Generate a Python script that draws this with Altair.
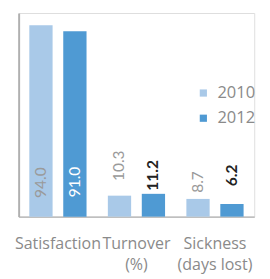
import altair as alt
import pandas as pd

categories = ["Satisfaction", "Turnover (%)", "Sickness (days lost)"]
years = ["2010", "2012"]
values_2010 = [94.0, 10.3, 8.7]
values_2012 = [91.0, 11.2, 6.2]
label_pos_2010 = [16.7, 25.0, 17.0]
label_pos_2012 = [17.0, 20.3, 20.3]

rows = []
for i, c in enumerate(categories):
    rows.append({"category": c, "year": "2010", "value": values_2010[i], "lpos": label_pos_2010[i]})
    rows.append({"category": c, "year": "2012", "value": values_2012[i], "lpos": label_pos_2012[i]})
df = pd.DataFrame(rows)

FONT = "Lato"
AXFONT = "Open Sans"
x_enc = alt.X("category:N", sort=categories, title=None,
              scale=alt.Scale(paddingInner=0, paddingOuter=0),
              axis=alt.Axis(labelAngle=0, ticks=False, domainColor="#b0b0b0", domainWidth=1.5,
                            labelColor="#8a8a8a", labelFont=AXFONT, labelFontSize=16.5,
                            labelPadding=20, labelLineHeight=22, labelBaseline="top",
                            labelExpr="split(replace(datum.label, ' (', '|('), '|')"))
xo_enc = alt.XOffset("year:N", sort=years,
                     scale=alt.Scale(paddingInner=0.314, paddingOuter=0.314))

base = alt.Chart(df).encode(x=x_enc, xOffset=xo_enc)

bars = base.mark_bar().encode(
    y=alt.Y("value:Q", scale=alt.Scale(domain=[0, 100], nice=False), title=None,
            axis=alt.Axis(labels=False, ticks=False, grid=False, domainColor="#b0b0b0", domainWidth=2)),
    color=alt.Color("year:N", sort=years,
                    scale=alt.Scale(domain=years, range=["#a9c9e8", "#4f9ad3"]),
                    legend=alt.Legend(title=None, orient="none", legendX=182, legendY=74,
                                      symbolType="square", symbolSize=55, symbolStrokeWidth=0,
                                      labelFont=AXFONT, labelFontSize=17, labelColor="#8a8a8a",
                                      rowPadding=8, symbolOffset=0, labelOffset=6)),
)

txt_y = alt.Y("lpos:Q", scale=alt.Scale(domain=[0, 100], nice=False))

t2010 = base.transform_filter("datum.year == '2010'").mark_text(
    angle=270, font=FONT, fontSize=16, color="#9a9a9a", align="center", baseline="middle"
).encode(y=txt_y, text=alt.Text("value:Q", format=".1f"))

t2012a = base.transform_filter("datum.year == '2012' && datum.value > 50").mark_text(
    angle=270, font=FONT, fontSize=16, color="#ffffff", align="center", baseline="middle"
).encode(y=txt_y, text=alt.Text("value:Q", format=".1f"))

t2012b = base.transform_filter("datum.year == '2012' && datum.value <= 50").mark_text(
    angle=270, font=FONT, fontSize=16, fontWeight="bold", color="#222222", align="center", baseline="middle"
).encode(y=txt_y, text=alt.Text("value:Q", format=".1f"))

chart = alt.layer(bars, t2010, t2012a, t2012b).properties(
    width=243, height=210,
    autosize=alt.AutoSizeParams(type="none"),
    padding={"left": 11, "top": 1, "right": 8, "bottom": 56},
).configure_view(stroke=None).configure(background="white")

chart.save("out.html", embed_options={"renderer": "svg", "actions": False})
